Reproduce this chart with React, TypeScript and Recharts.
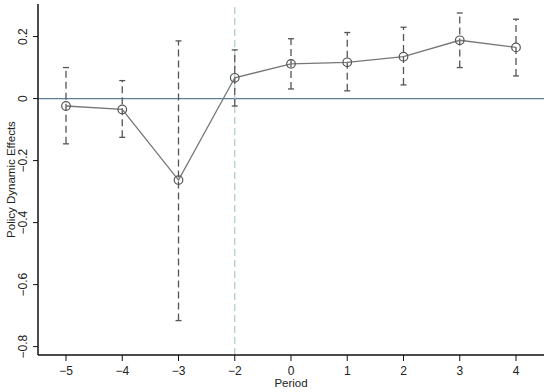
import { LineChart, Line, XAxis, YAxis, ErrorBar, ReferenceLine } from "recharts";

const periods = ["-5", "-4", "-3", "-2", "0", "1", "2", "3", "4"];
const effects = [-0.024, -0.035, -0.263, 0.067, 0.112, 0.117, 0.135, 0.188, 0.165];
const ciLow = [-0.146, -0.125, -0.716, -0.024, 0.031, 0.025, 0.044, 0.1, 0.073];
const ciHigh = [0.1, 0.058, 0.186, 0.157, 0.193, 0.213, 0.23, 0.276, 0.256];
const yTicks = [-0.8, -0.6, -0.4, -0.2, 0, 0.2];

const FONT = "'Liberation Sans', Arial, sans-serif";

// minus sign like the original graph
const fmt = (v: number | string) => {
  const n = Number(v);
  if (n === 0) return "0";
  return n < 0 ? `\u2212${Math.abs(n)}` : String(n);
};

const data = periods.map((p, i) => ({
  period: p,
  effect: effects[i],
  err: [effects[i] - ciLow[i], ciHigh[i] - effects[i]],
}));

function YTick({ x, y, payload }: any) {
  return (
    <text
      transform={`translate(${x - 4},${y}) rotate(-90)`}
      textAnchor="middle"
      fontSize={12}
      fill="#222"
      fontFamily={FONT}
    >
      {fmt(payload.value)}
    </text>
  );
}

function XTick({ x, y, payload }: any) {
  return (
    <text x={x} y={y + 12} textAnchor="middle" fontSize={12} fill="#222" fontFamily={FONT}>
      {fmt(payload.value)}
    </text>
  );
}

export default function App() {
  return (
    <div style={{ position: "absolute", left: 0, top: 0, width: 550, height: 392, background: "#fff" }}>
      <LineChart
        width={550}
        height={392}
        data={data}
        margin={{ top: 4, right: 6, bottom: 0, left: 0 }}
      >
        <XAxis
          dataKey="period"
          padding={{ left: 28, right: 28 }}
          height={37}
          tickSize={6}
          tick={<XTick />}
          stroke="#111"
          tickLine={{ stroke: "#111" }}
          axisLine={{ stroke: "#111", strokeWidth: 1.5 }}
          label={{
            content: ({ viewBox }: any) => (
              <text
                x={viewBox.x + viewBox.width / 2}
                y={viewBox.y + 31.5}
                textAnchor="middle"
                fontSize={11.5}
                fill="#222"
                fontFamily={FONT}
              >
                Period
              </text>
            ),
          }}
        />
        <XAxis
          xAxisId="top"
          dataKey="period"
          orientation="top"
          height={0}
          tick={false}
          tickLine={false}
          axisLine={{ stroke: "#555", strokeWidth: 1.5 }}
        />
        <YAxis
          domain={[-0.827, 0.305]}
          ticks={yTicks}
          width={38}
          tickSize={5}
          tick={<YTick />}
          tickLine={{ stroke: "#111" }}
          axisLine={{ stroke: "#111", strokeWidth: 1.5 }}
          allowDataOverflow
          label={{
            content: ({ viewBox }: any) => (
              <text
                transform={`translate(${viewBox.x + 15},${viewBox.y + viewBox.height / 2}) rotate(-90)`}
                textAnchor="middle"
                fontSize={11.5}
                fill="#222"
                fontFamily={FONT}
              >
                Policy Dynamic Effects
              </text>
            ),
          }}
        />
        <YAxis
          yAxisId="right"
          orientation="right"
          width={0}
          tick={false}
          tickLine={false}
          axisLine={{ stroke: "#555", strokeWidth: 2 }}
        />
        <ReferenceLine y={0} stroke="#5b7f99" strokeWidth={1.2} />
        <ReferenceLine x="-2" stroke="#a9c9c9" strokeWidth={1.2} strokeDasharray="7 4" />
        <Line
          dataKey="effect"
          stroke="#777"
          strokeWidth={1.3}
          isAnimationActive={false}
          dot={{ r: 4.3, fill: "none", stroke: "#555", strokeWidth: 1.2 }}
          activeDot={false}
        >
          <ErrorBar
            dataKey="err"
            direction="y"
            width={3}
            stroke="#555"
            strokeWidth={1.3}
            strokeDasharray="7 4"
            isAnimationActive={false}
          />
        </Line>
      </LineChart>
    </div>
  );
}
